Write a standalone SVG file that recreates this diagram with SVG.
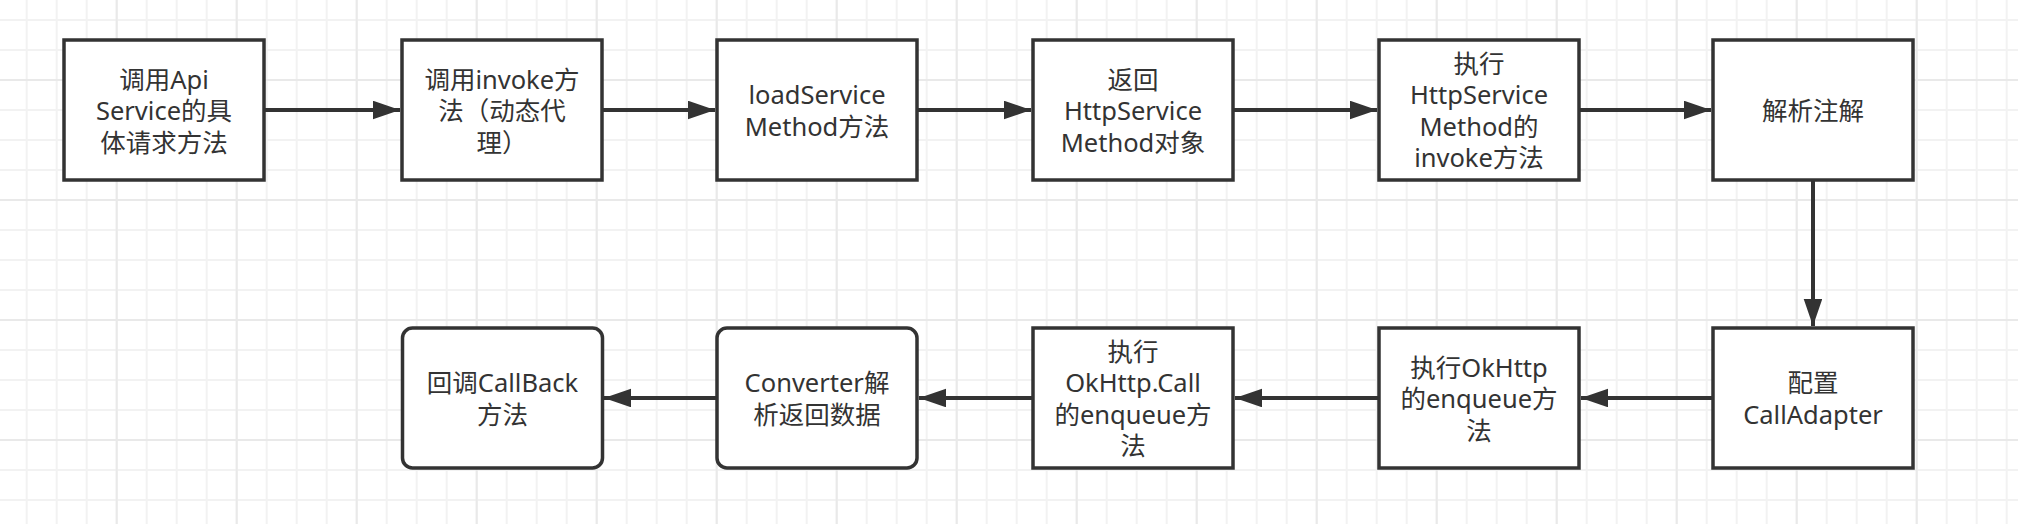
<svg xmlns="http://www.w3.org/2000/svg" width="2018" height="524" viewBox="0 0 2018 524">
<style>
.box{fill:#ffffff;stroke:#333333;stroke-width:3.5}
.lbl{font-family:"Noto Sans","Noto Sans CJK SC",sans-serif;font-size:25.5px;fill:#333333;text-anchor:middle}
.edge{fill:none;stroke:#333333;stroke-width:4;marker-end:url(#arr)}
</style>
<defs>
<pattern id="gMinor" patternUnits="userSpaceOnUse" x="11.7" y="5" width="30" height="30">
<rect x="14" y="0" width="2" height="30" fill="#f2f2f2"/>
<rect x="0" y="14" width="30" height="2" fill="#f2f2f2"/>
</pattern>
<pattern id="gMajor" patternUnits="userSpaceOnUse" x="56.7" y="20" width="120" height="120">
<rect x="59" y="0" width="2" height="120" fill="#e9e9e9"/>
<rect x="0" y="59" width="120" height="2" fill="#e9e9e9"/>
</pattern>
<marker id="arr" markerUnits="userSpaceOnUse" markerWidth="28" markerHeight="20" refX="27" refY="9.3" orient="auto">
<path d="M0,0 L27,9.3 L0,18.6 Z" fill="#333333"/>
</marker>
</defs>
<rect x="0" y="0" width="2018" height="524" fill="#ffffff"/>
<rect x="0" y="0" width="2018" height="524" fill="url(#gMinor)"/>
<rect x="0" y="0" width="2018" height="524" fill="url(#gMajor)"/>

<g id="connectors">
<path class="edge" d="M264,110 L400,110"/>
<path class="edge" d="M602,110 L715,110"/>
<path class="edge" d="M917,110 L1031,110"/>
<path class="edge" d="M1233,110 L1377,110"/>
<path class="edge" d="M1579,110 L1711,110"/>
<path class="edge" d="M1813,180 L1813,326"/>
<path class="edge" d="M1713,398 L1581,398"/>
<path class="edge" d="M1379,398 L1235,398"/>
<path class="edge" d="M1033,398 L919,398"/>
<path class="edge" d="M717,398 L604,398"/>
</g>

<g id="n1">
<rect class="box" x="64" y="40" width="200" height="140"/>
<text class="lbl"><tspan x="164" y="88.5">调用Api</tspan><tspan x="164" y="120">Service的具</tspan><tspan x="164" y="151.5">体请求方法</tspan></text>
</g>
<g id="n2">
<rect class="box" x="402" y="40" width="200" height="140"/>
<text class="lbl"><tspan x="502" y="88.5">调用invoke方</tspan><tspan x="502" y="120">法（动态代</tspan><tspan x="502" y="151.5">理）</tspan></text>
</g>
<g id="n3">
<rect class="box" x="717" y="40" width="200" height="140"/>
<text class="lbl"><tspan x="817" y="104.25">loadService</tspan><tspan x="817" y="135.75">Method方法</tspan></text>
</g>
<g id="n4">
<rect class="box" x="1033" y="40" width="200" height="140"/>
<text class="lbl"><tspan x="1133" y="88.5">返回</tspan><tspan x="1133" y="120">HttpService</tspan><tspan x="1133" y="151.5">Method对象</tspan></text>
</g>
<g id="n5">
<rect class="box" x="1379" y="40" width="200" height="140"/>
<text class="lbl"><tspan x="1479" y="72.75">执行</tspan><tspan x="1479" y="104.25">HttpService</tspan><tspan x="1479" y="135.75">Method的</tspan><tspan x="1479" y="167.25">invoke方法</tspan></text>
</g>
<g id="n6">
<rect class="box" x="1713" y="40" width="200" height="140"/>
<text class="lbl"><tspan x="1813" y="120">解析注解</tspan></text>
</g>
<g id="n7">
<rect class="box" x="402.5" y="328" width="200" height="140" rx="10" ry="10"/>
<text class="lbl"><tspan x="502.5" y="392.25">回调CallBack</tspan><tspan x="502.5" y="423.75">方法</tspan></text>
</g>
<g id="n8">
<rect class="box" x="717" y="328" width="200" height="140" rx="10" ry="10"/>
<text class="lbl"><tspan x="817" y="392.25">Converter解</tspan><tspan x="817" y="423.75">析返回数据</tspan></text>
</g>
<g id="n9">
<rect class="box" x="1033" y="328" width="200" height="140"/>
<text class="lbl"><tspan x="1133" y="360.75">执行</tspan><tspan x="1133" y="392.25">OkHttp.Call</tspan><tspan x="1133" y="423.75">的enqueue方</tspan><tspan x="1133" y="455.25">法</tspan></text>
</g>
<g id="n10">
<rect class="box" x="1379" y="328" width="200" height="140"/>
<text class="lbl"><tspan x="1479" y="376.5">执行OkHttp</tspan><tspan x="1479" y="408">的enqueue方</tspan><tspan x="1479" y="439.5">法</tspan></text>
</g>
<g id="n11">
<rect class="box" x="1713" y="328" width="200" height="140"/>
<text class="lbl"><tspan x="1813" y="392.25">配置</tspan><tspan x="1813" y="423.75">CallAdapter</tspan></text>
</g>
</svg>
